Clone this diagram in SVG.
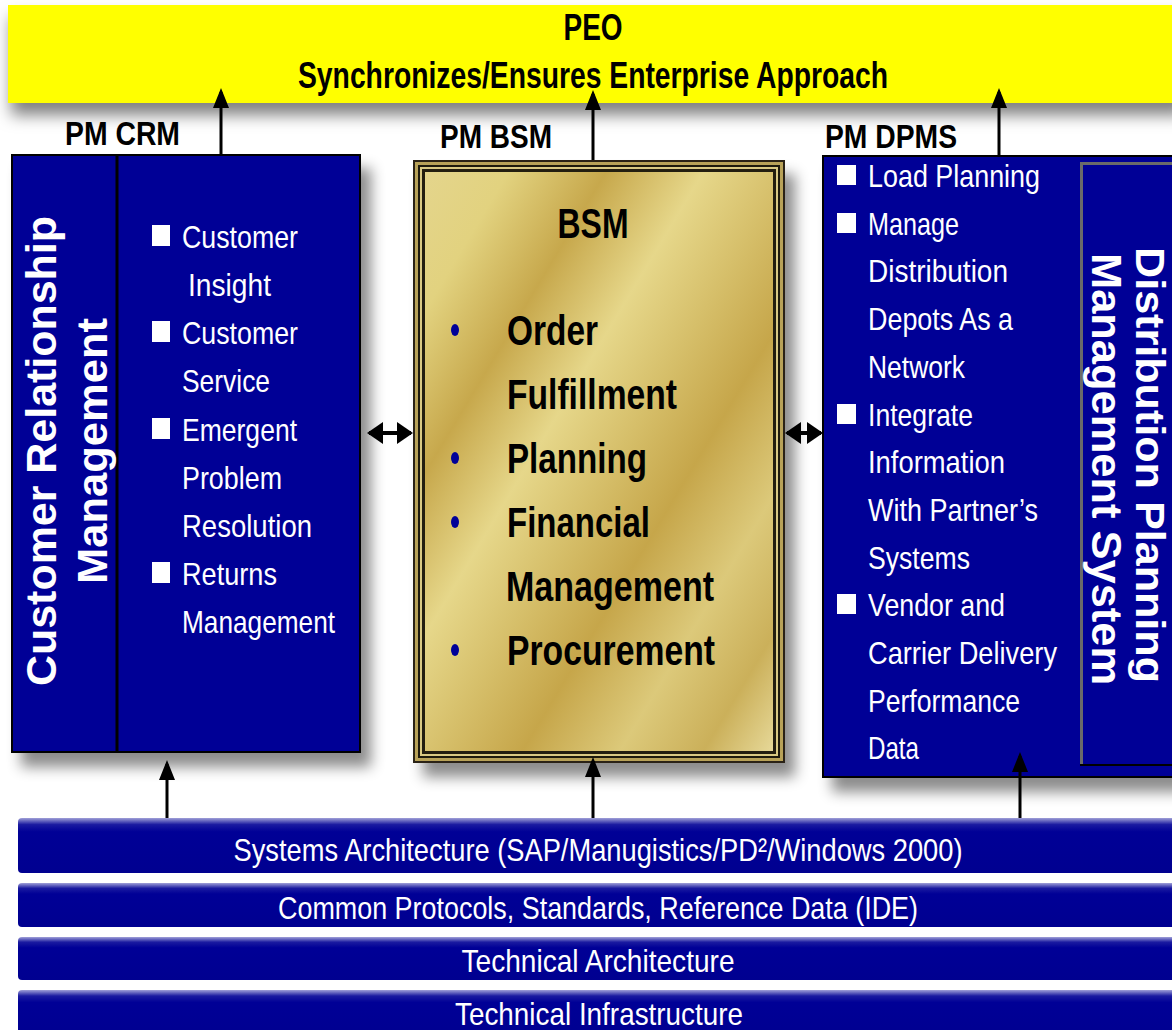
<svg xmlns="http://www.w3.org/2000/svg" width="1172" height="1030" viewBox="0 0 1172 1030">
<defs>
<style>
.narrowB{font-family:"Liberation Sans Narrow","Liberation Sans",Arial,sans-serif;font-weight:bold;fill:#000}
.wt{font-family:"Liberation Sans Narrow","Liberation Sans",Arial,sans-serif;fill:#fff;font-size:32px}
.vt{font-family:"Liberation Sans",Arial,sans-serif;font-weight:bold;fill:#fff;font-size:43px;text-anchor:middle}
.vt2{font-family:"Liberation Sans",Arial,sans-serif;font-weight:bold;fill:#fff;font-size:40px;text-anchor:middle}
.bsm{font-family:"Liberation Sans Narrow","Liberation Sans",Arial,sans-serif;font-weight:bold;fill:#000;font-size:42px}
.navy{fill:#000096}
.bul{fill:#fff}
.dot{fill:#000099}
.conn{stroke:#000;fill:none}
.bartxt{font-family:"Liberation Sans Narrow","Liberation Sans",Arial,sans-serif;fill:#fff;font-size:32px;text-anchor:middle}
</style>
<filter id="sh" x="-10%" y="-10%" width="130%" height="130%">
<feDropShadow dx="10" dy="14" stdDeviation="7" flood-color="#000" flood-opacity="0.45"/>
</filter>
<filter id="shb" x="-5%" y="-20%" width="110%" height="160%">
<feDropShadow dx="3" dy="12" stdDeviation="8" flood-color="#000" flood-opacity="0.5"/>
</filter>
<linearGradient id="gold" x1="0" y1="0" x2="1" y2="1">
<stop offset="0" stop-color="#e4d58c"/>
<stop offset="0.12" stop-color="#e2d27f"/>
<stop offset="0.26" stop-color="#c7a84c"/>
<stop offset="0.4" stop-color="#e6d78a"/>
<stop offset="0.52" stop-color="#d6bf6a"/>
<stop offset="0.64" stop-color="#c6a64a"/>
<stop offset="0.78" stop-color="#dcc97a"/>
<stop offset="0.9" stop-color="#cbb05a"/>
<stop offset="1" stop-color="#e6d898"/>
</linearGradient>
<linearGradient id="bar" x1="0" y1="0" x2="0" y2="1">
<stop offset="0" stop-color="#a0a0d8"/>
<stop offset="0.12" stop-color="#1a1aa0"/>
<stop offset="0.25" stop-color="#000096"/>
<stop offset="1" stop-color="#000090"/>
</linearGradient>
<marker id="ah" viewBox="0 0 20 16" refX="16" refY="8" markerWidth="20" markerHeight="16" markerUnits="userSpaceOnUse" orient="auto">
<path d="M0,0 L20,8 L0,16 z" fill="#000"/>
</marker>
<marker id="dh" viewBox="0 0 16 22" refX="14" refY="11" markerWidth="16" markerHeight="22" markerUnits="userSpaceOnUse" orient="auto-start-reverse">
<path d="M0,0 L16,11 L0,22 z" fill="#000"/>
</marker>
</defs>
<rect x="0" y="0" width="1172" height="1030" fill="#fff"/>

<g id="peo">
<rect x="8" y="5" width="1175" height="98" fill="#ffff00" filter="url(#shb)"/>
<text class="narrowB" x="593" y="40" font-size="36" text-anchor="middle" textLength="59" lengthAdjust="spacingAndGlyphs">PEO</text>
<text class="narrowB" x="593" y="88" font-size="36" text-anchor="middle" textLength="590" lengthAdjust="spacingAndGlyphs">Synchronizes/Ensures Enterprise Approach</text>
</g>

<g id="crm">
<g filter="url(#sh)">
<rect x="12" y="155" width="348" height="597" class="navy" stroke="#000" stroke-width="2"/>
</g>
<line x1="117" y1="155" x2="117" y2="752" stroke="#000" stroke-width="3"/>
<text class="narrowB" x="65" y="145" font-size="34" textLength="115" lengthAdjust="spacingAndGlyphs">PM CRM</text>
<text class="vt" transform="translate(56,451) rotate(-90)" textLength="470" lengthAdjust="spacingAndGlyphs">Customer Relationship</text>
<text class="vt" transform="translate(107,451) rotate(-90)" textLength="266" lengthAdjust="spacingAndGlyphs">Management</text>
<rect class="bul" x="152" y="225" width="18" height="21"/>
<rect class="bul" x="152" y="321" width="18" height="21"/>
<rect class="bul" x="152" y="418" width="18" height="21"/>
<rect class="bul" x="152" y="562" width="18" height="21"/>
<text class="wt" x="182" y="248" textLength="116" lengthAdjust="spacingAndGlyphs">Customer</text>
<text class="wt" x="188" y="296" textLength="83" lengthAdjust="spacingAndGlyphs">Insight</text>
<text class="wt" x="182" y="344" textLength="116" lengthAdjust="spacingAndGlyphs">Customer</text>
<text class="wt" x="182" y="392" textLength="88" lengthAdjust="spacingAndGlyphs">Service</text>
<text class="wt" x="182" y="441" textLength="115" lengthAdjust="spacingAndGlyphs">Emergent</text>
<text class="wt" x="182" y="489" textLength="100" lengthAdjust="spacingAndGlyphs">Problem</text>
<text class="wt" x="182" y="537" textLength="130" lengthAdjust="spacingAndGlyphs">Resolution</text>
<text class="wt" x="182" y="585" textLength="95" lengthAdjust="spacingAndGlyphs">Returns</text>
<text class="wt" x="182" y="633" textLength="153" lengthAdjust="spacingAndGlyphs">Management</text>
</g>

<g id="bsm">
<g filter="url(#sh)">
<rect x="413" y="160" width="372" height="603" fill="#2a2414"/>
</g>
<rect x="415" y="162" width="368" height="599" fill="#b8a258"/>
<rect x="418" y="165" width="362" height="593" fill="#1e1a0c"/>
<rect x="420" y="167" width="358" height="589" fill="#d9c983"/>
<rect x="422" y="169" width="354" height="585" fill="#231e10"/>
<rect x="425" y="172" width="348" height="579" fill="url(#gold)"/>
<text class="narrowB" x="440" y="148" font-size="34" textLength="112" lengthAdjust="spacingAndGlyphs">PM BSM</text>
<text class="bsm" x="593" y="238" font-size="44" text-anchor="middle" textLength="71" lengthAdjust="spacingAndGlyphs">BSM</text>
<ellipse class="dot" cx="455" cy="330" rx="4" ry="6"/>
<ellipse class="dot" cx="455" cy="458" rx="4" ry="6"/>
<ellipse class="dot" cx="455" cy="522" rx="4" ry="6"/>
<ellipse class="dot" cx="455" cy="650" rx="4" ry="6"/>
<text class="bsm" x="507" y="345" textLength="91" lengthAdjust="spacingAndGlyphs">Order</text>
<text class="bsm" x="507" y="409" textLength="170" lengthAdjust="spacingAndGlyphs">Fulfillment</text>
<text class="bsm" x="507" y="473" textLength="140" lengthAdjust="spacingAndGlyphs">Planning</text>
<text class="bsm" x="507" y="537" textLength="143" lengthAdjust="spacingAndGlyphs">Financial</text>
<text class="bsm" x="506" y="601" textLength="208" lengthAdjust="spacingAndGlyphs">Management</text>
<text class="bsm" x="507" y="665" textLength="208" lengthAdjust="spacingAndGlyphs">Procurement</text>
</g>

<g id="dpms">
<g filter="url(#sh)">
<rect x="823" y="156" width="400" height="621" class="navy" stroke="#000" stroke-width="2"/>
</g>
<rect x="1080" y="162" width="120" height="603" class="navy"/>
<path d="M1081.5,765 L1081.5,163.5 L1200,163.5" fill="none" stroke="#6a6a6a" stroke-width="3"/>
<line x1="1080" y1="765" x2="1200" y2="765" stroke="#000" stroke-width="2"/>
<text class="narrowB" x="825" y="148" font-size="34" textLength="132" lengthAdjust="spacingAndGlyphs">PM DPMS</text>
<text class="vt2" transform="translate(1136,465) rotate(90)" textLength="436" lengthAdjust="spacingAndGlyphs">Distribution Planning</text>
<text class="vt" transform="translate(1092,469) rotate(90)" textLength="432" lengthAdjust="spacingAndGlyphs">Management System</text>
<rect class="bul" x="837" y="165" width="19" height="20"/>
<rect class="bul" x="837" y="213" width="19" height="20"/>
<rect class="bul" x="837" y="404" width="19" height="20"/>
<rect class="bul" x="837" y="594" width="19" height="20"/>
<text class="wt" x="868" y="187" textLength="172" lengthAdjust="spacingAndGlyphs">Load Planning</text>
<text class="wt" x="868" y="235" textLength="91" lengthAdjust="spacingAndGlyphs">Manage</text>
<text class="wt" x="868" y="282" textLength="140" lengthAdjust="spacingAndGlyphs">Distribution</text>
<text class="wt" x="868" y="330" textLength="145" lengthAdjust="spacingAndGlyphs">Depots As a</text>
<text class="wt" x="868" y="378" textLength="97" lengthAdjust="spacingAndGlyphs">Network</text>
<text class="wt" x="868" y="426" textLength="105" lengthAdjust="spacingAndGlyphs">Integrate</text>
<text class="wt" x="868" y="473" textLength="137" lengthAdjust="spacingAndGlyphs">Information</text>
<text class="wt" x="868" y="521" textLength="170" lengthAdjust="spacingAndGlyphs">With Partner’s</text>
<text class="wt" x="868" y="569" textLength="102" lengthAdjust="spacingAndGlyphs">Systems</text>
<text class="wt" x="868" y="616" textLength="137" lengthAdjust="spacingAndGlyphs">Vendor and</text>
<text class="wt" x="868" y="664" textLength="189" lengthAdjust="spacingAndGlyphs">Carrier Delivery</text>
<text class="wt" x="868" y="712" textLength="152" lengthAdjust="spacingAndGlyphs">Performance</text>
<text class="wt" x="868" y="759" textLength="51" lengthAdjust="spacingAndGlyphs">Data</text>
</g>

<g id="bar-systems">
<rect x="18" y="818" width="1170" height="55" rx="4" fill="url(#bar)"/>
<text class="bartxt" x="598" y="861" textLength="729" lengthAdjust="spacingAndGlyphs">Systems Architecture (SAP/Manugistics/PD²/Windows 2000)</text>
</g>
<g id="bar-protocols">
<rect x="18" y="883" width="1170" height="44" rx="4" fill="url(#bar)"/>
<text class="bartxt" x="598" y="919" textLength="640" lengthAdjust="spacingAndGlyphs">Common Protocols, Standards, Reference Data (IDE)</text>
</g>
<g id="bar-techarch">
<rect x="18" y="937" width="1170" height="43" rx="4" fill="url(#bar)"/>
<text class="bartxt" x="598" y="972" textLength="273" lengthAdjust="spacingAndGlyphs">Technical Architecture</text>
</g>
<g id="bar-infra">
<rect x="18" y="990" width="1170" height="50" rx="4" fill="url(#bar)"/>
<text class="bartxt" x="599" y="1025" textLength="288" lengthAdjust="spacingAndGlyphs">Technical Infrastructure</text>
</g>

<g id="connectors" class="conn">
<line x1="221" y1="155" x2="221" y2="92" stroke-width="3" marker-end="url(#ah)"/>
<line x1="593" y1="160" x2="593" y2="94" stroke-width="3" marker-end="url(#ah)"/>
<line x1="999" y1="156" x2="999" y2="92" stroke-width="3" marker-end="url(#ah)"/>
<line x1="369" y1="433" x2="411" y2="433" stroke-width="4" marker-start="url(#dh)" marker-end="url(#dh)"/>
<line x1="787" y1="433" x2="821" y2="433" stroke-width="4" marker-start="url(#dh)" marker-end="url(#dh)"/>
<line x1="167" y1="818" x2="167" y2="764" stroke-width="3" marker-end="url(#ah)"/>
<line x1="593" y1="818" x2="593" y2="761" stroke-width="3" marker-end="url(#ah)"/>
<line x1="1020" y1="818" x2="1020" y2="756" stroke-width="3" marker-end="url(#ah)"/>
</g>
</svg>
